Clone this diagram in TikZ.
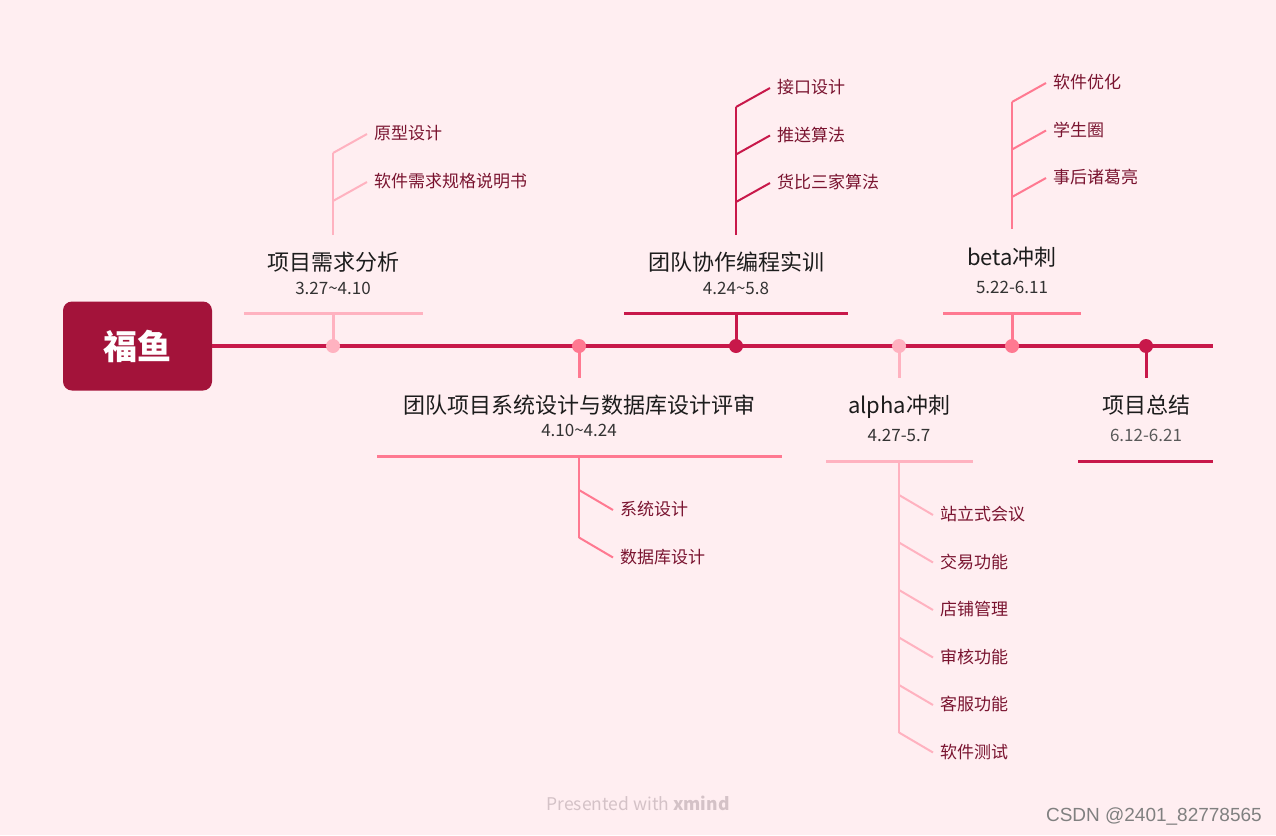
\documentclass[tikz,border=0pt]{standalone}
\usepackage{fontspec}
\setmainfont{Noto Sans CJK SC}
\newfontfamily\markfont{Liberation Sans}
\usetikzlibrary{calc}

\definecolor{bgpink}{RGB}{255,238,241}
\definecolor{rootred}{RGB}{163,19,58}
\definecolor{mainred}{RGB}{200,24,74}
\definecolor{lightpink}{RGB}{255,178,192}
\definecolor{midpink}{RGB}{255,121,145}
\definecolor{subtext}{RGB}{122,20,48}
\definecolor{titletext}{RGB}{28,28,28}

\tikzset{
  topic/.style={text=titletext, font=\fontsize{22}{26}\selectfont, inner sep=0pt,
                text height=18pt, text depth=4pt},
  datetext/.style={text=black!80, font=\fontsize{17}{20}\selectfont, inner sep=0pt,
                   text height=12pt, text depth=0pt},
  sub/.style={text=subtext, font=\fontsize{17}{20}\selectfont, anchor=west,
              inner xsep=7pt, inner ysep=0pt, text height=14pt, text depth=3pt},
  dot/.style={circle, fill, inner sep=0pt, minimum size=14pt},
}

\begin{document}
\begin{tikzpicture}[x=1pt, y=-1pt]
  \fill [bgpink] (0,0) rectangle (1276,835);
  \useasboundingbox (0,0) rectangle (1276,835);

  \node [fill=rootred, rounded corners=9pt, minimum width=149pt, minimum height=89pt,
         text=white, font=\fontsize{34}{40}\selectfont\bfseries] (root) at (137.5,346) {福鱼};
  \coordinate (end) at (1213,346);
  \draw [line width=3.5pt, mainred] (root.east) -- (end);

  % 项目需求分析
  \node [dot, lightpink] (D-1) at (333,346) {};
  \coordinate (B-1-l) at (244,313);
  \coordinate (B-1-r) at (423,313);
  \draw [line width=3pt, lightpink] (B-1-l) -- (B-1-r);
  \draw [line width=3pt, lightpink] (D-1.center) -- (D-1 |- B-1-l);
  \node [topic] (T-1) at (333,263) {项目需求分析};
  \node [datetext] (S-1) at (333,288) {3.27\textasciitilde4.10};
  \coordinate (K-1) at (333,235);
  \draw [line width=2pt, lightpink] (K-1) -- (333,153);
  \foreach \t [count=\i] in {原型设计, 软件需求规格说明书}
  {
    \pgfmathsetmacro\yy{134+48*(\i-1)}
    \node [sub] (P-1-\i) at (367,\yy) {\t};
    \draw [line width=2pt, lightpink] (333,\yy+19) -- (P-1-\i.west);
  }

  % 团队项目系统设计与数据库设计评审
  \node [dot, midpink] (D-2) at (579,346) {};
  \coordinate (B-2-l) at (377,456);
  \coordinate (B-2-r) at (782,456);
  \draw [line width=3pt, midpink] (B-2-l) -- (B-2-r);
  \draw [line width=3pt, midpink] (D-2.center) -- (579,378);
  \node [topic] (T-2) at (579,406) {团队项目系统设计与数据库设计评审};
  \node [datetext] (S-2) at (579,430) {4.10\textasciitilde4.24};
  \coordinate (K-2) at (D-2 |- B-2-l);
  \draw [line width=2pt, midpink] (K-2) -- (579,538);
  \foreach \t [count=\i] in {系统设计, 数据库设计}
  {
    \pgfmathsetmacro\yy{510+47.5*(\i-1)}
    \node [sub] (P-2-\i) at (613,\yy) {\t};
    \draw [line width=2pt, midpink] (579,\yy-20) -- (P-2-\i.west);
  }

  % 团队协作编程实训
  \node [dot, mainred] (D-3) at (736,346) {};
  \coordinate (B-3-l) at (624,313);
  \coordinate (B-3-r) at (848,313);
  \draw [line width=3pt, mainred] (B-3-l) -- (B-3-r);
  \draw [line width=3pt, mainred] (D-3.center) -- (D-3 |- B-3-l);
  \node [topic] (T-3) at (736,263) {团队协作编程实训};
  \node [datetext] (S-3) at (736,288) {4.24\textasciitilde5.8};
  \coordinate (K-3) at (736,235);
  \draw [line width=2pt, mainred] (K-3) -- (736,107);
  \foreach \t [count=\i] in {接口设计, 推送算法, 货比三家算法}
  {
    \pgfmathsetmacro\yy{88+47.5*(\i-1)}
    \node [sub] (P-3-\i) at (770,\yy) {\t};
    \draw [line width=2pt, mainred] (736,\yy+19) -- (P-3-\i.west);
  }

  % alpha冲刺
  \node [dot, lightpink] (D-4) at (899,346) {};
  \coordinate (B-4-l) at (826,461);
  \coordinate (B-4-r) at (973,461);
  \draw [line width=3pt, lightpink] (B-4-l) -- (B-4-r);
  \draw [line width=3pt, lightpink] (D-4.center) -- (899,378);
  \node [topic] (T-4) at (899,406) {alpha冲刺};
  \node [datetext] (S-4) at (899,435) {4.27-5.7};
  \coordinate (K-4) at (D-4 |- B-4-l);
  \draw [line width=2pt, lightpink] (K-4) -- (899,733);
  \foreach \t [count=\i] in {站立式会议, 交易功能, 店铺管理, 审核功能, 客服功能, 软件测试}
  {
    \pgfmathsetmacro\yy{515+47.5*(\i-1)}
    \node [sub] (P-4-\i) at (933,\yy) {\t};
    \draw [line width=2pt, lightpink] (899,\yy-20) -- (P-4-\i.west);
  }

  % beta冲刺
  \node [dot, midpink] (D-5) at (1012,346) {};
  \coordinate (B-5-l) at (943,313);
  \coordinate (B-5-r) at (1081,313);
  \draw [line width=3pt, midpink] (B-5-l) -- (B-5-r);
  \draw [line width=3pt, midpink] (D-5.center) -- (D-5 |- B-5-l);
  \node [topic] (T-5) at (1012,258) {beta冲刺};
  \node [datetext] (S-5) at (1012,287) {5.22-6.11};
  \coordinate (K-5) at (1012,229);
  \draw [line width=2pt, midpink] (K-5) -- (1012,102);
  \foreach \t [count=\i] in {软件优化, 学生圈, 事后诸葛亮}
  {
    \pgfmathsetmacro\yy{83+47.5*(\i-1)}
    \node [sub] (P-5-\i) at (1046,\yy) {\t};
    \draw [line width=2pt, midpink] (1012,\yy+19) -- (P-5-\i.west);
  }

  % 项目总结
  \node [dot, mainred] (D-6) at (1146,346) {};
  \coordinate (B-6-l) at (1078,461);
  \coordinate (B-6-r) at (1213,461);
  \draw [line width=3pt, mainred] (B-6-l) -- (B-6-r);
  \draw [line width=3pt, mainred] (D-6.center) -- (1146,378);
  \node [topic] (T-6) at (1146,406) {项目总结};
  \node [datetext, text=black!65] (S-6) at (1146,435) {6.12-6.21};

  \node [text={rgb,255:red,212;green,194;blue,199}, font=\fontsize{17.5}{21}\selectfont]
        (credit) at (638,803) {Presented with \textbf{xmind}};
  \node [anchor=east, text=black!50, font=\markfont\fontsize{19}{22}\selectfont, inner sep=0pt]
        (mark) at (1262,816) {CSDN @2401\_82778565};
\end{tikzpicture}
\end{document}
